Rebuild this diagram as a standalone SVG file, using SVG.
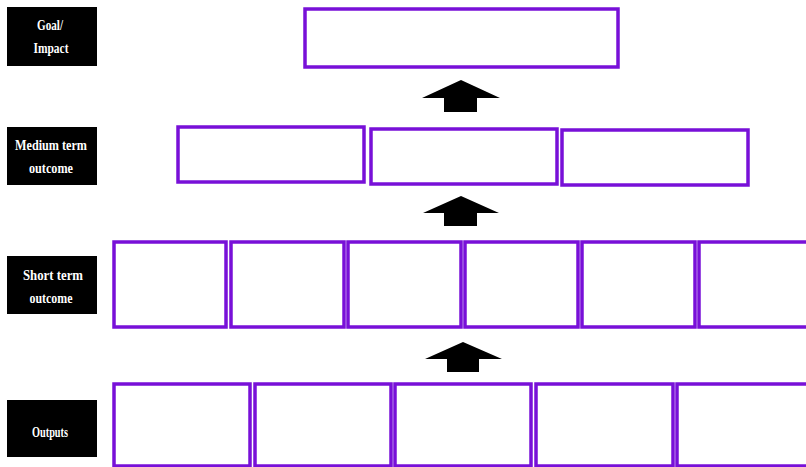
<svg xmlns="http://www.w3.org/2000/svg" width="806" height="467" viewBox="0 0 806 467">
<style>
.lbl{fill:#000}
.lt{fill:#fff;font-family:"Liberation Serif","Times New Roman",serif;font-weight:bold;font-size:15px;text-anchor:middle}
.box{fill:#fff;stroke:#7810d8;stroke-width:3.5}
.arr{fill:#000}
</style>
<rect width="806" height="467" fill="#fff"/>
<g id="label-goal"><rect class="lbl" x="7" y="7" width="90" height="59"/>
<text class="lt" x="50" y="30" textLength="26" lengthAdjust="spacingAndGlyphs">Goal/</text>
<text class="lt" x="51" y="53" textLength="35" lengthAdjust="spacingAndGlyphs">Impact</text></g>
<g id="label-medium"><rect class="lbl" x="7" y="127" width="90" height="58"/>
<text class="lt" x="51" y="150" textLength="72" lengthAdjust="spacingAndGlyphs">Medium term</text>
<text class="lt" x="51" y="173" textLength="44" lengthAdjust="spacingAndGlyphs">outcome</text></g>
<g id="label-short"><rect class="lbl" x="7" y="256" width="90" height="58"/>
<text class="lt" x="53" y="280" textLength="60" lengthAdjust="spacingAndGlyphs">Short term</text>
<text class="lt" x="51" y="303" textLength="43" lengthAdjust="spacingAndGlyphs">outcome</text></g>
<g id="label-outputs"><rect class="lbl" x="7" y="400" width="90" height="57"/>
<text class="lt" x="50" y="437" textLength="36" lengthAdjust="spacingAndGlyphs">Outputs</text></g>
<g id="goal-box"><rect class="box" x="305" y="9" width="313" height="58"/></g>
<g id="medium-1"><rect class="box" x="178" y="127" width="186" height="55"/></g>
<g id="medium-2"><rect class="box" x="371" y="129" width="186" height="55"/></g>
<g id="medium-3"><rect class="box" x="562" y="130" width="186" height="55"/></g>
<g id="short-1"><rect class="box" x="114" y="242" width="112" height="85"/></g>
<g id="short-2"><rect class="box" x="231" y="242" width="113" height="85"/></g>
<g id="short-3"><rect class="box" x="348" y="242" width="113" height="85"/></g>
<g id="short-4"><rect class="box" x="465" y="242" width="113" height="85"/></g>
<g id="short-5"><rect class="box" x="582" y="242" width="113" height="85"/></g>
<g id="short-6"><rect class="box" x="699" y="242" width="113" height="85"/></g>
<g id="output-1"><rect class="box" x="114" y="384" width="136" height="82"/></g>
<g id="output-2"><rect class="box" x="255" y="384" width="136" height="82"/></g>
<g id="output-3"><rect class="box" x="395" y="384" width="136" height="82"/></g>
<g id="output-4"><rect class="box" x="536" y="384" width="137" height="82"/></g>
<g id="output-5"><rect class="box" x="677" y="384" width="137" height="82"/></g>
<g id="connectors">
<polygon class="arr" points="461,80 500,98 477,98 477,112 444,112 444,98 422,98"/>
<polygon class="arr" points="461,196 499,213 477,213 477,226 444,226 444,213 423,213"/>
<polygon class="arr" points="463,342 502,359 479,359 479,372 447,372 447,359 425,359"/>
</g>
</svg>
